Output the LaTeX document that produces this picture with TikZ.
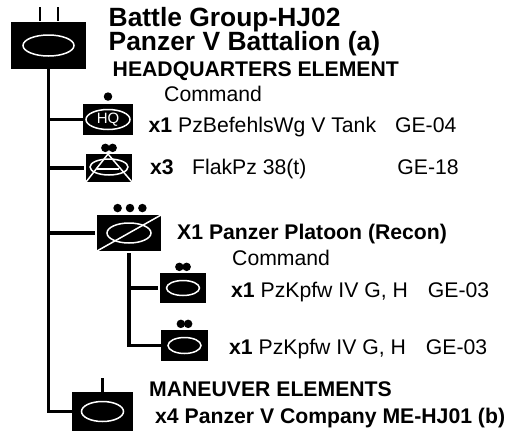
\documentclass[tikz,border=0pt]{standalone}
\usepackage{fontspec}
\setmainfont{Liberation Sans}
\usetikzlibrary{positioning,shapes.geometric}

\tikzset{
	unit/.style={fill=black, inner sep=0pt, outer sep=0pt},
	oval/.style={ellipse, draw=white, line width=1.5pt, inner sep=0pt, outer sep=0pt},
	pip/.style={circle, fill=black, inner sep=0pt, minimum size=8.5pt},
	cut/.style={white, line width=1.5pt},
	link/.style={line width=3.8pt},
	tick/.style={line width=2.8pt},
	head/.style={font=\bfseries\fontsize{26.4}{27}\selectfont, inner sep=0pt, anchor=base west},
	sub/.style={font=\bfseries\fontsize{21.2}{22}\selectfont, inner sep=0pt, anchor=base west},
	item/.style={font=\fontsize{21.2}{22}\selectfont, inner sep=0pt, anchor=base west},
}

\begin{document}
\begin{tikzpicture}[x=1pt, y=-1pt]
	\useasboundingbox (0,0) rectangle (509,434);

	\node[unit, minimum width=75pt, minimum height=47pt] (bg) at (48.5,45.5) {};
	\node[oval, minimum width=51pt, minimum height=21pt] (bgoval) at (bg) {};
	\coordinate[above=1pt of bg.north, xshift=-8.5pt] (bga);
	\coordinate[above=15pt of bg.north, xshift=-8.5pt] (bgb);
	\coordinate[above=1pt of bg.north, xshift=9.5pt] (bgc);
	\coordinate[above=15pt of bg.north, xshift=9.5pt] (bgd);
	\draw[tick] (bga) -- (bgb);
	\draw[tick] (bgc) -- (bgd);

	\node[head] (title) at ([shift={(22.5,-19.5)}]bg.east) {Battle Group-HJ02};
	\node[head] (bat) at ([shift={(0,24)}]title.base west) {Panzer V Battalion (a)};
	\node[sub] (hqel) at ([shift={(4,26)}]bat.base west) {HEADQUARTERS ELEMENT};

	% headquarters
	\node[unit, minimum width=50pt, minimum height=31pt] (hq) at (108,119.5) {};
	\node[oval, minimum width=44pt, minimum height=20pt, text=white, font=\fontsize{15}{15}\selectfont] (hqoval) at (hq) {HQ};
	\node[pip, above=3pt of hq] (hqpip) {};
	\node[item] (hqcmd) at ([shift={(31,-18.5)}]hq.east) {Command};
	\node[item] (hqtxt) at ([shift={(15.5,12.5)}]hq.east) {\textbf{x1} PzBefehlsWg V Tank\hspace{19pt}GE-04};

	% flak
	\node[unit, minimum width=46pt, minimum height=28pt] (flak) at (109,168) {};
	\node[oval, minimum width=38pt, minimum height=16pt] (flakoval) at (109,167) {};
	\coordinate (flaktop) at ([shift={(-1,-14)}]flak.center);
	\coordinate (flakbarl) at ([shift={(-12,1)}]flak.center);
	\coordinate (flakbarr) at ([shift={(10,1)}]flak.center);
	\draw[cut] (flak.south west) -- (flaktop) -- (flak.south east);
	\draw[cut] (flakbarl) -- (flakbarr);
	\node[pip, above left=3pt and 0.5pt of flak.north] (flakpipa) {};
	\node[pip, above right=3pt and 0.5pt of flak.north] (flakpipb) {};
	\node[item] (flaktxt) at ([shift={(18,6)}]flak.east) {\textbf{x3}\hspace{18.4pt}FlakPz 38(t)\hspace{91pt}GE-18};

	% recon platoon
	\node[unit, minimum width=64pt, minimum height=36pt] (plt) at (129,233) {};
	\node[oval, minimum width=44pt, minimum height=20pt] (pltoval) at (plt) {};
	\draw[cut] (plt.south west) -- (plt.north east);
	\node[pip, above=2.5pt of plt, xshift=1pt] (pltpipb) {};
	\node[pip, left=3.5pt of pltpipb] (pltpipa) {};
	\node[pip, right=3.5pt of pltpipb] (pltpipc) {};
	\node[sub] (plttxt) at ([shift={(16,6)}]plt.east) {X1 Panzer Platoon (Recon)};

	\node[unit, minimum width=46pt, minimum height=30pt] (tka) at (183,288) {};
	\node[oval, minimum width=33pt, minimum height=15pt] (tkaoval) at (tka) {};
	\node[pip, above left=3pt and 0.5pt of tka.north] (tkapipa) {};
	\node[pip, above right=3pt and 0.5pt of tka.north] (tkapipb) {};
	\node[item] (tkacmd) at ([shift={(26,-23)}]tka.east) {Command};
	\node[item] (tkatxt) at ([shift={(25,9)}]tka.east) {\textbf{x1} PzKpfw IV G, H\hspace{20pt}GE-03};

	\node[unit, minimum width=47pt, minimum height=31pt] (tkb) at (184.5,345.5) {};
	\node[oval, minimum width=33pt, minimum height=16pt] (tkboval) at (tkb) {};
	\node[pip, above left=3pt and 0.5pt of tkb.north] (tkbpipa) {};
	\node[pip, above right=3pt and 0.5pt of tkb.north] (tkbpipb) {};
	\node[item] (tkbtxt) at ([shift={(21,8.5)}]tkb.east) {\textbf{x1} PzKpfw IV G, H\hspace{20pt}GE-03};

	% maneuver
	\node[unit, minimum width=61pt, minimum height=39pt] (mvr) at (102.5,411.5) {};
	\node[oval, minimum width=42pt, minimum height=20pt] (mvroval) at (mvr) {};
	\coordinate[above=0pt of mvr.north] (mvra);
	\coordinate[above=14pt of mvr.north] (mvrb);
	\draw[tick] (mvra) -- (mvrb);
	\node[sub] (mvrel) at ([shift={(46.5,4)}]mvr.north) {MANEUVER ELEMENTS};
	\node[sub] (mvrtxt) at ([shift={(22,11.5)}]mvr.east) {x4 Panzer V Company ME-HJ01 (b)};

	% connectors
	\draw[link] (bg.south) |- (mvr.west);
	\draw[link] (bg.south |- hq.west) -- (hq.west);
	\draw[link] (bg.south |- flak.west) -- ([xshift=-2pt]flak.west);
	\draw[link] (bg.south |- plt.west) -- ([xshift=-2pt]plt.west);
	\draw[link] ([yshift=-2pt]plt.south) |- (tkb.west);
	\draw[link] (plt.south |- tka.west) -- ([xshift=-2pt]tka.west);
\end{tikzpicture}
\end{document}
